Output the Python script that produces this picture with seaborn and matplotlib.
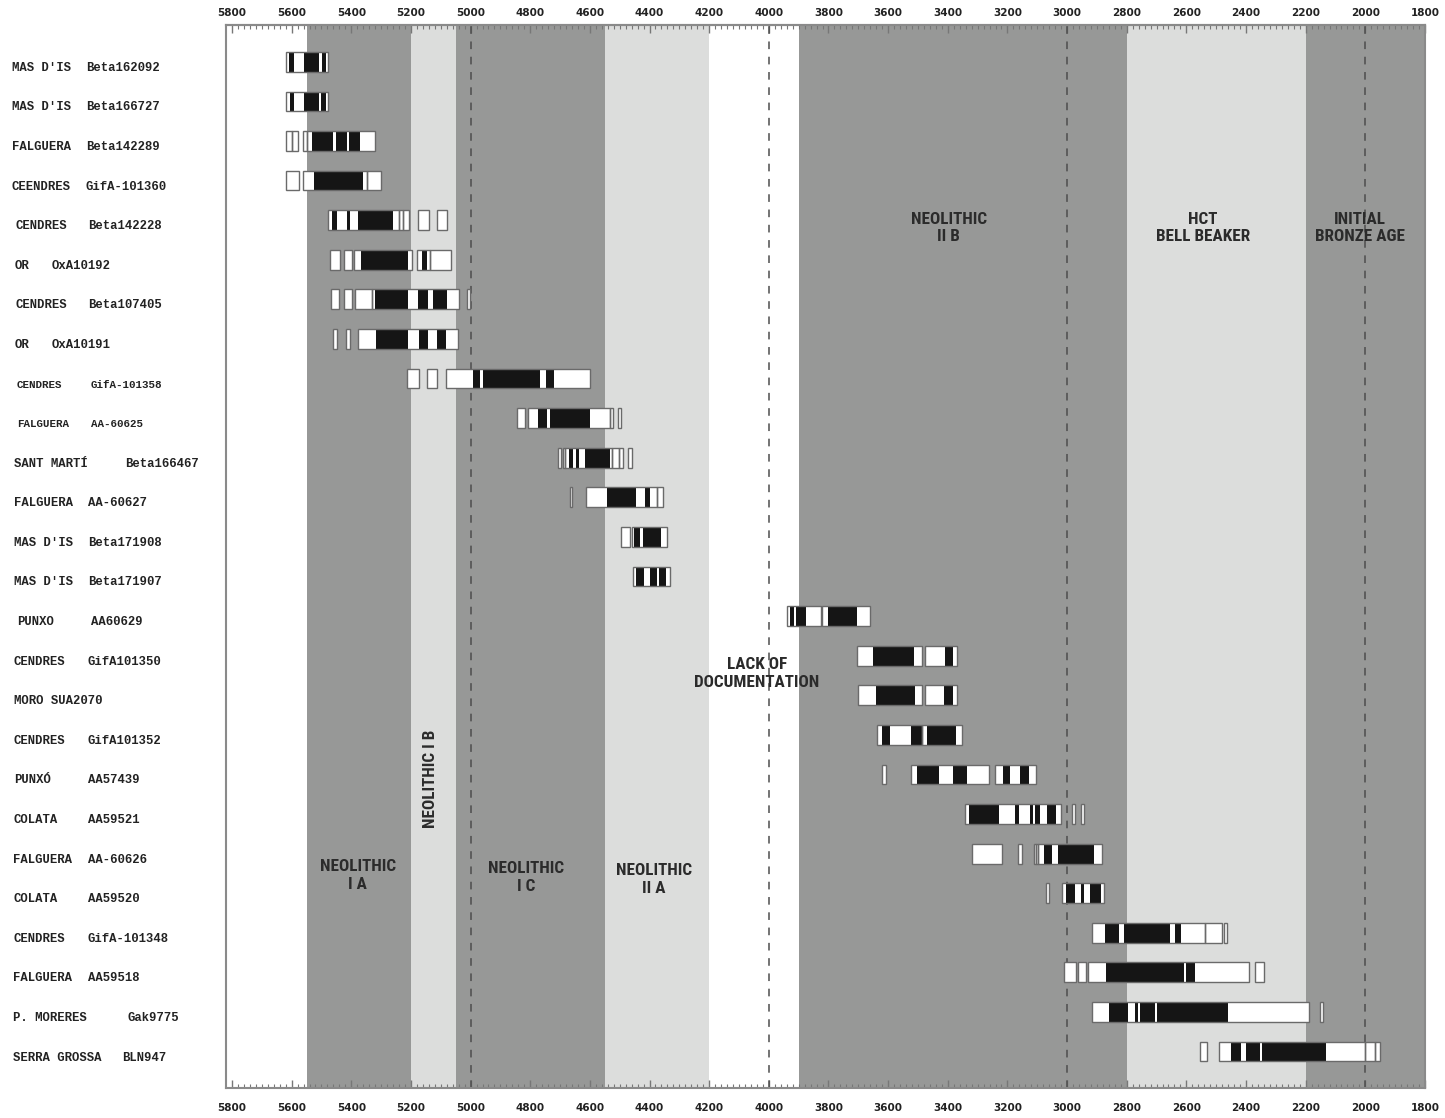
import matplotlib
matplotlib.use("Agg")
import matplotlib.pyplot as plt
import matplotlib.transforms as mtransforms
import seaborn as sns

# ---- sample labels (site, lab code) ----
sites = ["MAS D'IS", "MAS D'IS", "FALGUERA", "CEENDRES", "CENDRES", "OR", "CENDRES", "OR",
         "CENDRES", "FALGUERA", "SANT MARTÍ", "FALGUERA", "MAS D'IS", "MAS D'IS", "PUNXO",
         "CENDRES", "MORO SUA2070", "CENDRES", "PUNXÓ", "COLATA", "FALGUERA", "COLATA",
         "CENDRES", "FALGUERA", "P. MORERES", "SERRA GROSSA"]
codes = ["Beta162092", "Beta166727", "Beta142289", "GifA-101360", "Beta142228", "OxA10192",
         "Beta107405", "OxA10191", "GifA-101358", "AA-60625", "Beta166467", "AA-60627",
         "Beta171908", "Beta171907", "AA60629", "GifA101350", "", "GifA101352", "AA57439",
         "AA59521", "AA-60626", "AA59520", "GifA-101348", "AA59518", "Gak9775", "BLN947"]

# ---- calibrated ranges, cal BC (older, younger) ----
# outer (2 sigma) boxes
outer_ranges = [
    [(5620, 5477)],
    [(5620, 5477)],
    [(5619, 5598), (5598, 5580), (5563, 5548), (5548, 5321)],
    [(5619, 5576), (5563, 5346), (5346, 5300)],
    [(5477, 5241), (5241, 5227), (5227, 5206), (5175, 5140), (5114, 5078)],
    [(5470, 5437), (5424, 5397), (5390, 5198), (5181, 5135), (5135, 5066)],
    [(5469, 5441), (5424, 5399), (5389, 5329), (5329, 5038), (5011, 5002)],
    [(5462, 5449), (5418, 5403), (5377, 5042)],
    [(5212, 5173), (5145, 5112), (5084, 4598)],
    [(4844, 4816), (4807, 4531), (4531, 4522), (4505, 4497)],
    [(4706, 4698), (4690, 4684), (4684, 4527), (4527, 4503), (4503, 4490), (4472, 4460)],
    [(4667, 4659), (4614, 4376), (4376, 4354)],
    [(4494, 4466), (4460, 4343)],
    [(4457, 4330)],
    [(3939, 3826), (3821, 3661)],
    [(3706, 3486), (3475, 3369)],
    [(3701, 3486), (3475, 3369)],
    [(3639, 3485), (3485, 3351)],
    [(3619, 3608), (3522, 3262), (3242, 3105)],
    [(3343, 3022), (2985, 2974), (2952, 2944)],
    [(3319, 3218), (3164, 3150), (3112, 3105), (3105, 3097), (3097, 2883)],
    [(3072, 3060), (3017, 2876)],
    [(2915, 2539), (2539, 2479), (2475, 2464)],
    [(3010, 2969), (2963, 2938), (2930, 2391), (2371, 2341)],
    [(2915, 2189), (2151, 2142)],
    [(2553, 2530), (2491, 2000), (2000, 1969), (1969, 1952)],
]
# inner (1 sigma) intervals
inner_ranges = [
    [(5608, 5592), (5558, 5508), (5499, 5485)],
    [(5607, 5591), (5557, 5508), (5500, 5486)],
    [(5531, 5460), (5451, 5415), (5408, 5372)],
    [(5524, 5362)],
    [(5466, 5449), (5415, 5404), (5377, 5259)],
    [(5368, 5209), (5163, 5147)],
    [(5321, 5209), (5175, 5142), (5125, 5080)],
    [(5318, 5209), (5172, 5143), (5112, 5082)],
    [(4991, 4969), (4960, 4768), (4748, 4720)],
    [(4773, 4745), (4734, 4598)],
    [(4669, 4656), (4647, 4636), (4617, 4533)],
    [(4542, 4446), (4416, 4397)],
    [(4452, 4432), (4421, 4360)],
    [(4446, 4418), (4397, 4376), (4369, 4346)],
    [(3930, 3916), (3909, 3876), (3801, 3704)],
    [(3650, 3514), (3410, 3384)],
    [(3642, 3511), (3412, 3384)],
    [(3622, 3594), (3522, 3488), (3471, 3371)],
    [(3503, 3429), (3382, 3335), (3215, 3192), (3159, 3127)],
    [(3329, 3228), (3175, 3162), (3123, 3114), (3108, 3090), (3067, 3036)],
    [(3078, 3050), (3030, 2910)],
    [(3005, 2972), (2952, 2944), (2922, 2887)],
    [(2874, 2827), (2810, 2654), (2639, 2617)],
    [(2868, 2608), (2602, 2572)],
    [(2859, 2796), (2773, 2762), (2756, 2706), (2700, 2460)],
    [(2449, 2416), (2399, 2354), (2347, 2133)],
]

# ---- cultural periods ----
period_edges = [5820, 5550, 5200, 5050, 4550, 4200, 3900, 2800, 2200, 1800]
period_tone = ["none", "dark", "light", "dark", "light", "none", "dark", "light", "dark"]
period_names = ["NEOLITHIC\nI A", "NEOLITHIC I B", "NEOLITHIC\nI C", "NEOLITHIC\nII A",
                "LACK OF\nDOCUMENTATION", "NEOLITHIC\nII B", "HCT\nBELL BEAKER",
                "INITIAL\nBRONZE AGE"]
period_label_x = [5378, 5136, 4814, 4385, 4040, 3397, 2545, 2019]
period_label_row = [20.55, 18.1, 20.6, 20.65, 15.45, 4.2, 4.2, 4.2]
period_label_rot = [0, 90, 0, 0, 0, 0, 0, 0]
dashed_years = [5000, 4000, 3000, 2000]
tick_years = list(range(5800, 1799, -200))

# ---- styling ----
sns.set_theme(style="white")
plt.rcParams["font.family"] = ["DejaVu Sans"]

W, H = 1445, 1118
fig = plt.figure(figsize=(W / 100, H / 100), dpi=100)
ax = fig.add_axes([226 / W, 1 - 1088 / H, (1425 - 226) / W, (1088 - 25) / H])

tones = {"dark": "#979897", "light": "#dcdddc", "none": "white"}
for i, tone in enumerate(period_tone):
    ax.axvspan(period_edges[i], period_edges[i + 1], color=tones[tone], lw=0, zorder=0)

for yr in dashed_years:
    ax.axvline(yr, color="#4d4d4d", lw=1.1, dashes=(5, 5), zorder=1)

n = len(sites)
bar_h = 0.5
edge = "#6a6a6a"
for row in range(n):
    for a, b in outer_ranges[row]:
        ax.barh(row, a - b, left=b, height=bar_h, color="white", edgecolor="none", zorder=2)
    for a, b in inner_ranges[row]:
        ax.barh(row, a - b, left=b, height=bar_h, color="#151515", edgecolor="none", zorder=3)
    for a, b in outer_ranges[row]:
        ax.barh(row, a - b, left=b, height=bar_h, fill=False, edgecolor=edge,
                linewidth=1.0, zorder=4)

for name, xx, rr, rot in zip(period_names, period_label_x, period_label_row, period_label_rot):
    ax.text(xx, rr, name, ha="center", va="center", rotation=rot,
            family=["Roboto Condensed", "Roboto", "DejaVu Sans"], fontweight="bold",
            fontstretch="condensed", fontsize=12.3, color="#2b2b2b", linespacing=1.2,
            zorder=5)

ax.set_xlim(5820, 1800)
ax.set_ylim(25.92, -0.93)
ax.set_yticks([])

# bottom scale
ax.set_xticks(tick_years)
ax.set_xticks(list(range(5800, 1799, -20)), minor=True)
ax.tick_params(axis="x", which="both", direction="in", bottom=True, top=False,
               colors="#777777", labelcolor="#222222", labelsize=7.5, pad=11)
ax.tick_params(axis="x", which="major", length=6, width=1)
ax.tick_params(axis="x", which="minor", length=3, width=0.8)
for lab in ax.get_xticklabels():
    lab.set_fontweight("bold")

# top scale
top = ax.secondary_xaxis("top")
top.set_xticks(tick_years)
top.set_xticks(list(range(5800, 1799, -20)), minor=True)
top.tick_params(axis="x", which="both", direction="in", colors="#777777",
                labelcolor="#222222", labelsize=7.5, pad=5)
top.tick_params(axis="x", which="major", length=6, width=1)
top.tick_params(axis="x", which="minor", length=3, width=0.8)
for lab in top.get_xticklabels():
    lab.set_fontweight("bold")
top.spines["top"].set_color("#8a8a8a")
top.spines["top"].set_linewidth(1.5)

for s in ax.spines.values():
    s.set_color("#8a8a8a")
    s.set_linewidth(1.5)
    s.set_visible(True)

# sample labels in the left margin
site_x = [12, 12, 12, 12, 15, 15, 15, 15, 17, 17, 14, 14, 14, 14, 17, 14, 14, 14, 14, 14,
          13, 14, 13, 13, 13, 13]
code_x = [86, 86, 86, 86, 88, 52, 88, 52, 91, 91, 125, 88, 88, 88, 91, 88, 0, 88, 88, 88,
          88, 88, 88, 88, 127, 122]
small_rows = {8, 9}
for row in range(n):
    fs = 7.8 if row in small_rows else 8.8
    for txt, px in ((sites[row], site_x[row]), (codes[row], code_x[row])):
        if not txt:
            continue
        tr = mtransforms.blended_transform_factory(fig.transFigure, ax.transData)
        tr = mtransforms.offset_copy(tr, fig=fig, x=0, y=-6, units="dots")
        ax.text(px / W, row, txt, transform=tr, ha="left", va="center",
                family=["Liberation Mono", "DejaVu Sans Mono"], fontweight="bold",
                fontsize=fs, color="#222222", clip_on=False)

fig.savefig("out.png", dpi=100, facecolor="white")
